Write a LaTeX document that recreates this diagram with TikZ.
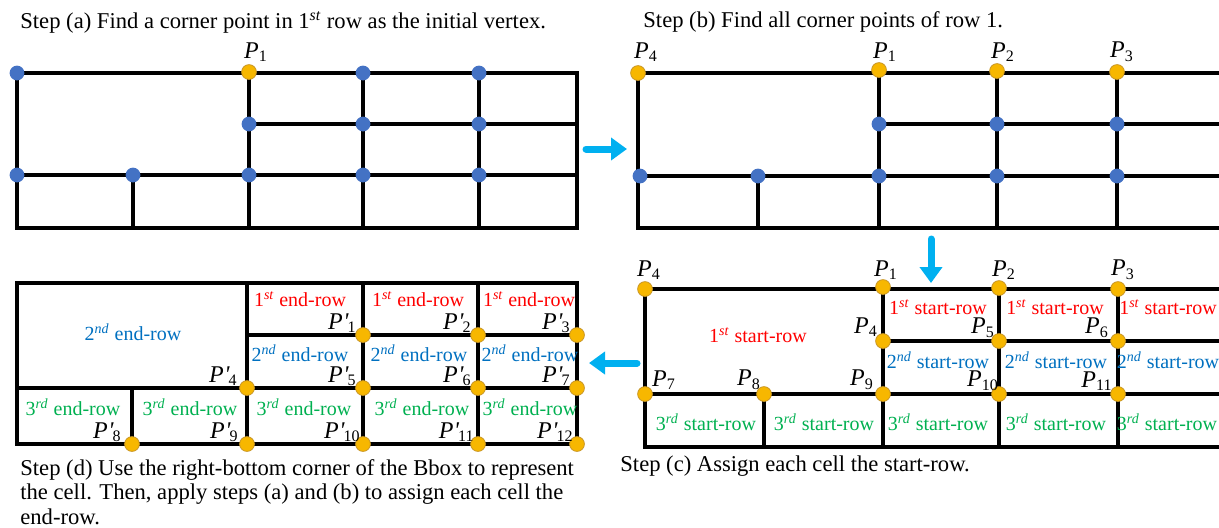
\documentclass[tikz,border=0pt]{standalone}
\usepackage{fontspec}
\setmainfont{Liberation Serif}
\usetikzlibrary{arrows.meta}
\definecolor{dotyellow}{RGB}{247,183,0}
\definecolor{dotyellowd}{RGB}{200,150,40}
\definecolor{dotblue}{RGB}{68,114,196}
\definecolor{txtred}{RGB}{255,0,0}
\definecolor{txtblue}{RGB}{0,112,192}
\definecolor{txtgreen}{RGB}{0,176,80}
\definecolor{arrowcyan}{RGB}{0,176,240}
\newcommand{\Pl}[1]{\textit{P}\textsubscript{#1}}
\newcommand{\Pp}[1]{\textit{P\kern0.02em\textquotesingle}\kern-0.05em\textsubscript{#1}}
\newcommand{\ordn}[2]{#1\textsuperscript{\itshape #2}}
\tikzset{
  gridline/.style={line width=1.7pt, black},
  ydot/.style={circle, fill=dotyellow, draw=dotyellowd, line width=0.4pt, inner sep=0pt, minimum size=7.4pt},
  bdot/.style={circle, fill=dotblue, inner sep=0pt, minimum size=7.4pt},
  plab/.style={font=\fontsize{12}{12}\selectfont, inner sep=0pt},
  pplab/.style={font=\fontsize{12}{12}\selectfont, inner sep=0pt, anchor=base east},
  celltxt/.style={font=\fontsize{10}{12}\selectfont, inner sep=0pt},
  redtxt/.style={celltxt, text=txtred},
  bluetxt/.style={celltxt, text=txtblue},
  greentxt/.style={celltxt, text=txtgreen},
  captxt/.style={font=\fontsize{11.3}{12.25}\selectfont, inner sep=0pt, anchor=west, align=left},
  bigarrow/.style={line width=3.5pt, draw=arrowcyan, line cap=round, -{Triangle[width=11pt,length=8pt]}}
}
\begin{document}
\begin{tikzpicture}[x=0.5pt, y=-0.5pt]
\useasboundingbox (0,0) rectangle (1219,527);

% ---------------- Panel (a) ----------------
\node[captxt] (capa) at (20,22) {Step (a) Find a corner point in \ordn{1}{st} row as the initial vertex.};
\draw[gridline] (17,73) rectangle (577,228);
\draw[gridline] (17,175) -- (577,175);
\draw[gridline] (249,124) -- (577,124);
\foreach \x in {249,363,479} \draw[gridline] (\x,73) -- (\x,228);
\draw[gridline] (133,175) -- (133,228);
\foreach \x/\y [count=\i] in {17/73,363/73,479/73,249/124,363/124,479/124,17/175,133/175,249/175,363/175,479/175}
  \node[bdot] (ab\i) at (\x,\y) {};
\node[ydot] (aP1) at (249,72) {};
\node[plab] (aL1) at (256,52) {\Pl{1}};

% ---------------- Panel (b) ----------------
\node[captxt] (capb) at (643,22) {Step (b) Find all corner points of row 1.};
\draw[gridline] (1225,73) -- (638,73) -- (638,228) -- (1225,228);
\draw[gridline] (638,176) -- (1225,176);
\draw[gridline] (879,124) -- (1225,124);
\foreach \x in {879,997,1117} \draw[gridline] (\x,73) -- (\x,228);
\draw[gridline] (758,176) -- (758,228);
\foreach \x/\y [count=\i] in {879/124,997/124,1117/124,640/176,758/176,879/176,997/176,1117/176}
  \node[bdot] (bb\i) at (\x,\y) {};
\node[ydot] (bP4) at (638,73) {};
\node[ydot] (bP1) at (879,70) {};
\node[ydot] (bP2) at (997,71) {};
\node[ydot] (bP3) at (1117,72) {};
\node[plab] (bL4) at (646,52) {\Pl{4}};
\node[plab] (bL1) at (885,52) {\Pl{1}};
\node[plab] (bL2) at (1003,52) {\Pl{2}};
\node[plab] (bL3) at (1122,52) {\Pl{3}};

% ---------------- Panel (c) ----------------
\node[captxt] (capc) at (620,466) {Step (c) Assign each cell the start-row.};
\draw[gridline] (1225,289) -- (645,289) -- (645,447) -- (1225,447);
\draw[gridline] (645,394) -- (1225,394);
\draw[gridline] (883,341) -- (1225,341);
\foreach \x in {883,999,1118} \draw[gridline] (\x,289) -- (\x,447);
\draw[gridline] (764,394) -- (764,447);
\node[ydot] (cP4) at (645,289) {};
\node[ydot] (cP1) at (883,287) {};
\node[ydot] (cP2) at (999,288) {};
\node[ydot] (cP3) at (1118,289) {};
\node[ydot] (cQ4) at (883,341) {};
\node[ydot] (cP5) at (999,341) {};
\node[ydot] (cP6) at (1118,341) {};
\node[ydot] (cP7) at (645,394) {};
\node[ydot] (cP8) at (764,394) {};
\node[ydot] (cP9) at (883,394) {};
\node[ydot] (cP10) at (999,394) {};
\node[ydot] (cP11) at (1118,394) {};
\node[plab] (cL4) at (649,270) {\Pl{4}};
\node[plab] (cL1) at (886,270) {\Pl{1}};
\node[plab] (cL2) at (1004,270) {\Pl{2}};
\node[plab] (cL3) at (1123,270) {\Pl{3}};
\node[plab] (cM4) at (866,327) {\Pl{4}};
\node[plab] (cL5) at (983,328) {\Pl{5}};
\node[plab] (cL6) at (1097,328) {\Pl{6}};
\node[plab] (cL7) at (664,380) {\Pl{7}};
\node[plab] (cL8) at (749,380) {\Pl{8}};
\node[plab] (cL9) at (862,380) {\Pl{9}};
\node[plab] (cL10) at (983,381) {\Pl{10}};
\node[plab] (cL11) at (1097,381) {\Pl{11}};
\node[redtxt] (cs0) at (758,335) {\ordn{1}{st} start-row};
\node[redtxt] (cs1) at (938,307) {\ordn{1}{st} start-row};
\node[redtxt] (cs2) at (1055,307) {\ordn{1}{st} start-row};
\node[redtxt] (cs3) at (1168,307) {\ordn{1}{st} start-row};
\node[bluetxt] (cs4) at (938,360) {\ordn{2}{nd} start-row};
\node[bluetxt] (cs5) at (1056,360) {\ordn{2}{nd} start-row};
\node[bluetxt] (cs6) at (1168,360) {\ordn{2}{nd} start-row};
\node[greentxt] (cs7) at (706,422) {\ordn{3}{rd} start-row};
\node[greentxt] (cs8) at (824,422) {\ordn{3}{rd} start-row};
\node[greentxt] (cs9) at (938,422) {\ordn{3}{rd} start-row};
\node[greentxt] (cs10) at (1056,422) {\ordn{3}{rd} start-row};
\node[greentxt] (cs11) at (1167,422) {\ordn{3}{rd} start-row};

% ---------------- Panel (d) ----------------
\node[captxt] (capd) at (20,492) {Step (d) Use the right-bottom corner of the Bbox to represent\\the cell. Then, apply steps (a) and (b) to assign each cell the\\end-row.};
\draw[gridline] (17,283) rectangle (577,444);
\draw[gridline] (17,388) -- (577,388);
\draw[gridline] (247,335) -- (577,335);
\foreach \x in {247,363,478} \draw[gridline] (\x,283) -- (\x,444);
\draw[gridline] (132,388) -- (132,444);
\node[redtxt] (de1) at (300,299) {\ordn{1}{st} end-row};
\node[redtxt] (de2) at (418,299) {\ordn{1}{st} end-row};
\node[redtxt] (de3) at (529,299) {\ordn{1}{st} end-row};
\node[bluetxt] (de0) at (133,332) {\ordn{2}{nd} end-row};
\node[bluetxt] (de4) at (300,353) {\ordn{2}{nd} end-row};
\node[bluetxt] (de5) at (419,353) {\ordn{2}{nd} end-row};
\node[bluetxt] (de6) at (530,353) {\ordn{2}{nd} end-row};
\node[greentxt] (de7) at (73,407) {\ordn{3}{rd} end-row};
\node[greentxt] (de8) at (190,407) {\ordn{3}{rd} end-row};
\node[greentxt] (de9) at (304,407) {\ordn{3}{rd} end-row};
\node[greentxt] (de10) at (422,407) {\ordn{3}{rd} end-row};
\node[greentxt] (de11) at (530,407) {\ordn{3}{rd} end-row};
\foreach \x/\y/\n in {363/335/1,478/335/2,577/335/3,247/388/4,363/388/5,478/388/6,577/388/7,132/444/8,247/444/9,363/444/10,478/444/11,577/444/12}{
  \node[ydot] (dP\n) at (\x,\y) {};
}
\foreach \x/\y/\n/\dx in {363/335/1/6,478/335/2/6,577/335/3/6,247/388/4/9,363/388/5/6,478/388/6/6,577/388/7/6,132/444/8/10,247/444/9/8,363/444/10/2,478/444/11/3,577/444/12/3}{
  \node[pplab] (dL\n) at (\x-\dx,\y-6) {\Pp{\n}};
}

% ---------------- Arrows ----------------
\coordinate (ra1) at (586,149);
\coordinate (ra2) at (627,149);
\coordinate (da1) at (931,239);
\coordinate (da2) at (931,283);
\coordinate (la1) at (637,363);
\coordinate (la2) at (589,363);
\draw[bigarrow] (ra1) -- (ra2);
\draw[bigarrow] (da1) -- (da2);
\draw[bigarrow] (la1) -- (la2);
\end{tikzpicture}
\end{document}
